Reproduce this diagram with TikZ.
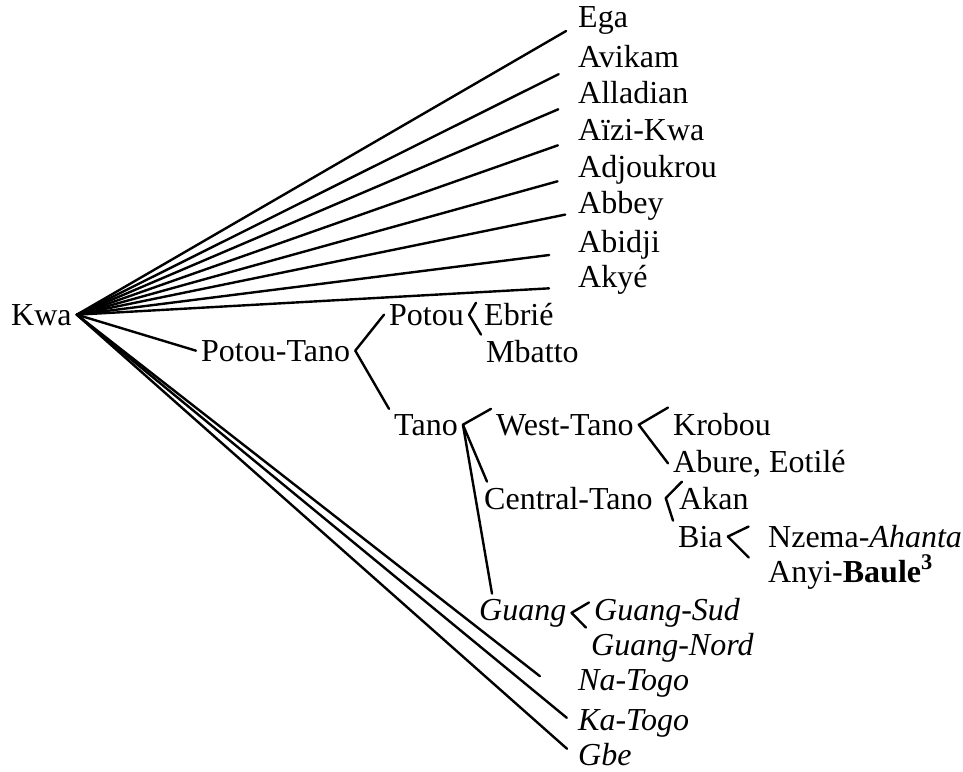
\documentclass[tikz,border=0pt]{standalone}
\usepackage{fontspec}
\setmainfont{Liberation Serif}
\usetikzlibrary{calc}
\begin{document}
\begin{tikzpicture}[x=0.5pt,y=-0.5pt,line join=round,line cap=round,line width=1.2pt,
	font=\fontsize{16}{19}\selectfont,
	lang/.style={inner sep=2pt,anchor=base west}]
	\useasboundingbox (0,0) rectangle (963,771);
	\node[lang] (kwa) at (6,325) {Kwa};
	\foreach \n/\t/\y in {ega/Ega/27,avikam/Avikam/67,alladian/Alladian/103,aizi/Aïzi-Kwa/140,adjoukrou/Adjoukrou/177,abbey/Abbey/213,abidji/Abidji/252,akye/Akyé/287}{
		\node[lang] (\n) at (573,\y) {\t};
	};
	\node[lang] (ptano) at (196,361) {Potou-Tano};
	\node[lang] (potou) at (384,325) {Potou};
	\node[lang] (ebrie) at (479,325) {Ebrié};
	\node[lang] (mbatto) at (481,362) {Mbatto};
	\node[lang] (tano) at (389,435) {Tano};
	\node[lang] (wtano) at (491,435) {West-Tano};
	\node[lang] (krobou) at (668,435) {Krobou};
	\node[lang] (abure) at (668,472) {Abure, Eotilé};
	\node[lang] (ctano) at (479,509) {Central-Tano};
	\node[lang] (akan) at (674,509) {Akan};
	\node[lang] (bia) at (673,547) {Bia};
	\node[lang] (nzema) at (763,547) {Nzema-\textit{Ahanta}};
	\node[lang] (anyi) at (763,582) {Anyi-\textbf{Baule\textsuperscript{3}}};
	\node[lang] (guang) at (474,620) {\textit{Guang}};
	\node[lang] (gsud) at (589,620) {\textit{Guang-Sud}};
	\node[lang] (gnord) at (586,655) {\textit{Guang-Nord}};
	\node[lang] (natogo) at (573,690) {\textit{Na-Togo}};
	\node[lang] (katogo) at (573,730) {\textit{Ka-Togo}};
	\node[lang] (gbe) at (573,765) {\textit{Gbe}};
	\foreach \n/\s in {ega/4,avikam/8,alladian/8,aizi/8,adjoukrou/8,abbey/4,abidji/12,akye/12}{
		\draw[shorten >=\s pt] (kwa.east)--(\n.base west);
	};
	\draw (kwa.east)--(ptano.west);
	\draw[shorten >=21pt] (kwa.east)--(natogo.south west);
	\draw[shorten >=4pt] (kwa.east)--(katogo.west);
	\draw[shorten >=4pt] (kwa.east)--(gbe.west);
	\draw (potou.west)--(ptano.east)--(tano.north west);
	\draw[shorten <=3pt] (ebrie.north west)--(potou.east)--(mbatto.north west);
	\draw (wtano.north west)--(tano.east)--([xshift=4pt]ctano.north west);
	\draw (tano.east)--([xshift=9pt]guang.north west);
	\draw (krobou.north west)--(wtano.east)--(abure.west);
	\draw ([xshift=4pt]akan.north west)--([xshift=4pt]ctano.east)--(bia.north west);
	\draw[shorten >=8pt] (bia.east)--(nzema.north west);
	\draw[shorten >=10pt] (bia.east)--(anyi.west);
	\draw ($(gsud.north west)!.5!(gsud.west)$)--(guang.east)--(gnord.north west);
\end{tikzpicture}
\end{document}
